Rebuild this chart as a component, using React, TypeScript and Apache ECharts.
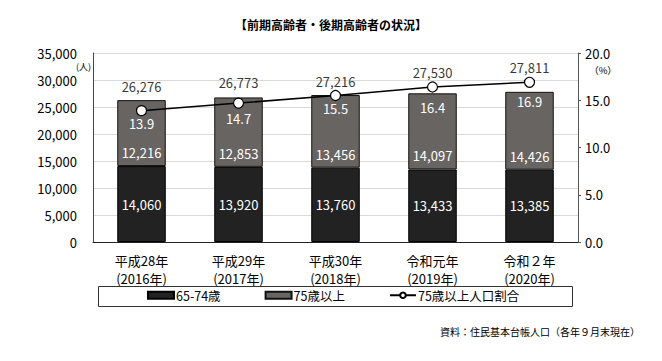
import React, { useEffect, useRef } from "react";
import * as echarts from "echarts";

const CATEGORIES = ["平成28年\n(2016年)", "平成29年\n(2017年)", "平成30年\n(2018年)", "令和元年\n(2019年)", "令和２年\n(2020年)"];
const YOUNG_OLD = [14060, 13920, 13760, 13433, 13385]; // 65-74歳
const OLD_OLD = [12216, 12853, 13456, 14097, 14426]; // 75歳以上
const TOTALS = [26276, 26773, 27216, 27530, 27811];
const RATIO = [13.9, 14.7, 15.5, 16.4, 16.9]; // 75歳以上人口割合 (%)
const LEFT_TICKS = { min: 0, max: 35000, interval: 5000 };
const RIGHT_TICKS = { min: 0, max: 20, interval: 5 };

const FONT = "'Noto Sans CJK JP', 'Noto Sans', sans-serif";
const fmt = (v: number) => v.toLocaleString("en-US");

export default function App() {
  const ref = useRef<HTMLDivElement>(null);
  useEffect(() => {
    if (!ref.current) return;
    const chart = echarts.init(ref.current, null, { renderer: "svg" });
    const totalDist = [7, 8, 7.5, 14, 17.5];
    const ratioDist = [1, 3, 1, 8, 7];
    chart.setOption({
      animation: false,
      textStyle: { fontFamily: FONT, color: "#000" },
      title: {
        text: "【前期高齢者・後期高齢者の状況】",
        left: "center",
        top: 13,
        textStyle: { fontSize: 12, fontWeight: "bold", color: "#000", fontFamily: FONT },
      },
      grid: { left: 93, right: 84, top: 53, bottom: 119 },
      legend: {
        left: 147,
        top: 289,
        padding: 0,
        itemWidth: 26,
        itemHeight: 7,
        itemGap: 44,
        textStyle: { fontSize: 12.5, color: "#000", fontFamily: FONT, padding: [0, 0, 0, -3] },
        data: [
          { name: "65-74歳", icon: "rect" },
          { name: "75歳以上", icon: "rect" },
          { name: "75歳以上人口割合" },
        ],
      },
      graphic: [
        {
          type: "rect",
          shape: { x: 98.5, y: 286.5, width: 474, height: 20 },
          style: { fill: "none", stroke: "#333", lineWidth: 1 },
          z: 0,
        },
        {
          type: "text",
          x: 91,
          y: 66.5,
          style: {
            text: "(人)",
            fontSize: 9,
            lineHeight: 10,
            fontFamily: FONT,
            fill: "#000",
            align: "right",
            verticalAlign: "middle",
          },
        },
        {
          type: "text",
          x: 603,
          y: 70,
          style: { text: "（%）", fontSize: 9.5, fontFamily: FONT, fill: "#000", align: "center", verticalAlign: "middle" },
        },
        {
          type: "text",
          x: 640,
          y: 331,
          style: {
            text: "資料：住民基本台帳人口（各年９月末現在）",
            fontSize: 10,
            fontFamily: FONT,
            fill: "#000",
            align: "right",
            verticalAlign: "middle",
          },
        },
      ],
      xAxis: {
        type: "category",
        data: CATEGORIES,
        axisLine: { lineStyle: { color: "#222", width: 1 } },
        axisTick: { show: false },
        axisLabel: { fontSize: 13, color: "#000", margin: 9, lineHeight: 18, fontFamily: FONT },
      },
      yAxis: [
        {
          type: "value",
          ...LEFT_TICKS,
          axisLine: { show: true, lineStyle: { color: "#444" } },
          axisTick: { show: false },
          axisLabel: {
            fontSize: 13,
            color: "#000",
            margin: 16,
            formatter: (v: number) => fmt(v),
            fontFamily: FONT,
          },
          splitLine: { lineStyle: { color: "#d9d9d9", width: 1 } },
        },
        {
          type: "value",
          ...RIGHT_TICKS,
          axisLine: { show: true, lineStyle: { color: "#555" } },
          axisTick: { show: true, length: 3, inside: false, lineStyle: { color: "#555" } },
          axisLabel: { fontSize: 13, color: "#000", margin: 7, formatter: (v: number) => v.toFixed(1), fontFamily: FONT },
          splitLine: { show: false },
        },
      ],
      series: [
        {
          name: "65-74歳",
          type: "bar",
          stack: "pop",
          barWidth: "50%",
          data: YOUNG_OLD,
          itemStyle: { color: "#222222", borderColor: "#000", borderWidth: 1 },
          label: {
            show: true,
            position: "inside",
            color: "#fff",
            fontSize: 13,
            fontFamily: FONT,
            formatter: (p: any) => fmt(p.value),
          },
        },
        {
          name: "75歳以上",
          type: "bar",
          stack: "pop",
          barWidth: "50%",
          data: OLD_OLD,
          itemStyle: { color: "#686462", borderColor: "#111", borderWidth: 1 },
          label: {
            show: true,
            position: "insideBottom",
            distance: 7,
            color: "#fff",
            fontSize: 13,
            fontFamily: FONT,
            formatter: (p: any) => fmt(p.value),
          },
        },
        {
          name: "総数",
          type: "scatter",
          data: TOTALS.map((v, i) => ({
            value: v,
            label: { distance: totalDist[i] },
          })),
          symbolSize: 0,
          silent: true,
          label: {
            show: true,
            position: "top",
            color: "#000",
            fontSize: 13,
            fontFamily: FONT,
            formatter: (p: any) => fmt(p.value),
          },
          z: 5,
        },
        {
          name: "75歳以上人口割合",
          type: "line",
          yAxisIndex: 1,
          data: RATIO.map((v, i) => ({ value: v, label: { distance: ratioDist[i] } })),
          symbol: "circle",
          symbolSize: 10,
          lineStyle: { color: "#000", width: 1.5 },
          itemStyle: { color: "#fff", borderColor: "#000", borderWidth: 1.2 },
          label: {
            show: true,
            position: "bottom",
            color: "#fff",
            fontSize: 13,
            fontFamily: FONT,
            formatter: (p: any) => Number(p.value).toFixed(1),
          },
          z: 10,
        },
      ],
    });
    return () => chart.dispose();
  }, []);
  return <div ref={ref} style={{ width: 662, height: 361, position: "absolute", left: 0, top: 0 }} />;
}
